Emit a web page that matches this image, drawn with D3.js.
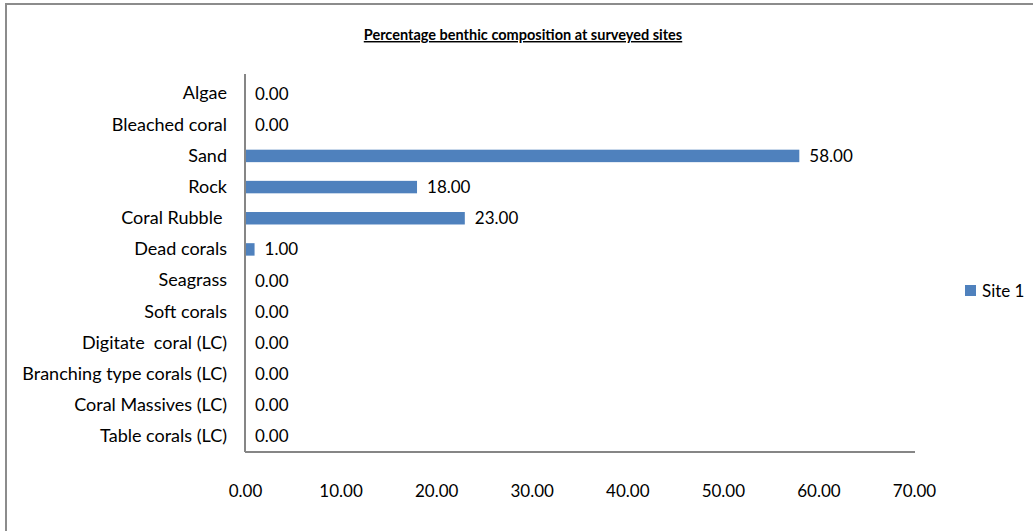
<!DOCTYPE html>
<html>
<head>
<meta charset="utf-8">
<script src="https://cdn.jsdelivr.net/npm/d3@7"></script>
<style>
  body { margin: 0; background: #fff; }
  svg text { font-family: Lato, "Open Sans", sans-serif; fill: #000; }
</style>
</head>
<body>
<div id="chart"></div>
<script>
// Categories top to bottom, values in percent
const categories = [
    "Algae", "Bleached coral", "Sand", "Rock", "Coral Rubble ", "Dead corals",
    "Seagrass", "Soft corals", "Digitate  coral (LC)", "Branching type corals (LC)",
    "Coral Massives (LC)", "Table corals (LC)"
];
const site1 = [0, 0, 58, 18, 23, 1, 0, 0, 0, 0, 0, 0];
const xTicks = [0, 10, 20, 30, 40, 50, 60, 70];
const seriesName = "Site 1";

const width = 1033, height = 531;
const margin = { top: 78, right: 119, bottom: 79, left: 245 };
const innerW = width - margin.left - margin.right;
const innerH = height - margin.top - margin.bottom;
const barColor = "#4f81bd";
const fontSize = "17px";

const data = categories.map((c, i) => ({ name: c, value: site1[i] }));

const svg = d3.select("#chart").append("svg")
    .attr("width", width)
    .attr("height", height);

// outer chart frame (only top and left edges visible)
svg.append("rect")
    .attr("x", 6).attr("y", 4)
    .attr("width", width + 20).attr("height", height + 20)
    .attr("fill", "none")
    .attr("stroke", "#8c8c8c")
    .attr("stroke-width", 2);

// title
svg.append("text")
    .attr("x", 523).attr("y", 40)
    .attr("text-anchor", "middle")
    .style("font-size", "14.5px")
    .style("font-weight", "bold")
    .style("text-decoration", "underline")
    .text("Percentage benthic composition at surveyed sites");

const g = svg.append("g")
    .attr("transform", `translate(${margin.left},${margin.top})`);

const x = d3.scaleLinear().domain([0, 70]).range([0, innerW]);
const y = d3.scaleBand().domain(categories).range([0, innerH]).paddingInner(0.6).paddingOuter(0.3);

// bars
g.selectAll(".bar")
    .data(data)
    .enter().append("rect")
    .attr("class", "bar")
    .attr("x", 0)
    .attr("y", d => y(d.name))
    .attr("width", d => x(d.value))
    .attr("height", y.bandwidth())
    .attr("fill", barColor);

// value labels
g.selectAll(".val")
    .data(data)
    .enter().append("text")
    .attr("class", "val")
    .attr("x", d => x(d.value) + 10)
    .attr("y", d => y(d.name) + y.bandwidth() / 2)
    .attr("dy", "0.35em")
    .style("font-size", fontSize)
    .text(d => d.value.toFixed(2));

// y axis (category labels)
const yAxis = d3.axisLeft(y).tickSize(0).tickPadding(18);
const yAxisG = g.append("g").attr("class", "y-axis").call(yAxis);
yAxisG.select(".domain").remove();
yAxisG.selectAll("text").style("font-size", "18px").style("white-space", "pre");

// x axis labels
const xAxis = d3.axisBottom(x).tickValues(xTicks).tickSize(0).tickPadding(33)
    .tickFormat(d => d.toFixed(2));
const xAxisG = g.append("g").attr("class", "x-axis")
    .attr("transform", `translate(0,${innerH})`)
    .call(xAxis);
xAxisG.select(".domain").remove();
xAxisG.selectAll("text").style("font-size", fontSize);

// axis lines
g.append("line")
    .attr("x1", 0).attr("x2", 0)
    .attr("y1", -4).attr("y2", innerH)
    .attr("stroke", "#868686").attr("stroke-width", 2);
g.append("line")
    .attr("x1", 0).attr("x2", innerW + 1)
    .attr("y1", innerH).attr("y2", innerH)
    .attr("stroke", "#868686").attr("stroke-width", 2);

// legend
const legend = svg.append("g")
    .attr("class", "legend")
    .attr("transform", "translate(965,285)");
legend.append("rect")
    .attr("width", 11).attr("height", 11)
    .attr("fill", barColor);
legend.append("text")
    .attr("x", 17).attr("y", 6)
    .attr("dy", "0.35em")
    .style("font-size", fontSize)
    .text(seriesName);
</script>
</body>
</html>
